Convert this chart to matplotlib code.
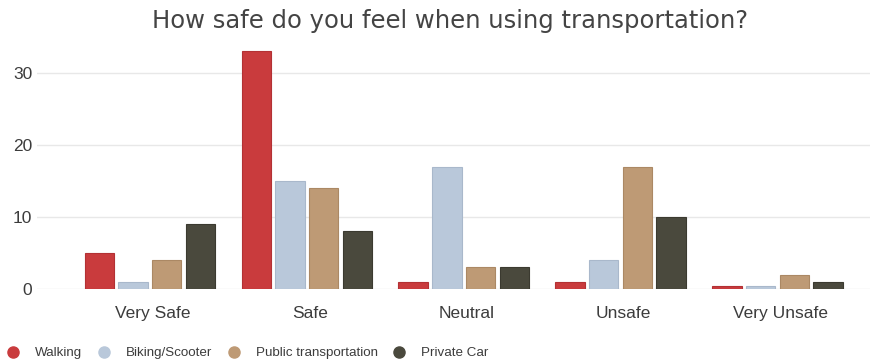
import numpy as np
import matplotlib.pyplot as plt
from matplotlib.lines import Line2D

# ========= DATA =========
categories = ["Very Safe", "Safe", "Neutral", "Unsafe", "Very Unsafe"]
series_names = ["Walking", "Biking/Scooter", "Public transportation", "Private Car"]
walking = [5, 33, 1, 1, 0.4]
biking = [1, 15, 17, 4, 0.4]
public = [4, 14, 3, 17, 2]
private = [9, 8, 3, 10, 1]
yticks = [0, 10, 20, 30]

colors = ["#c93b3d", "#b9c8da", "#be9a75", "#4a493d"]
edges = ["#b33134", "#a9b8cb", "#ab8864", "#3b3a30"]

# ========= PLOT =========
fig = plt.figure(figsize=(8.86, 3.62), dpi=100)
ax = fig.add_axes([37 / 886, 73 / 362, 833 / 886, 245 / 362])

x = np.arange(len(categories))
pitch = 0.215
width = 0.187
for i, (vals, c, ec) in enumerate(zip([walking, biking, public, private], colors, edges)):
    ax.bar(x + (i - 1.5) * pitch, vals, width=width, color=c, edgecolor=ec,
           linewidth=0.8, zorder=3)

ax.set_xlim(-0.72, 4.59)
ax.set_ylim(0, 34)
ax.set_yticks(yticks)
ax.set_xticks(x + 0.02)
ax.set_xticklabels(categories, fontfamily="Liberation Sans")
for lab in ax.get_yticklabels():
    lab.set_fontfamily("Liberation Sans")
ax.tick_params(axis="both", length=0, labelsize=12.5, labelcolor="#3c3c3c")
ax.tick_params(axis="x", pad=12.5)
ax.tick_params(axis="y", pad=3.5)
ax.grid(axis="y", color="#e8e8e8", linewidth=1, zorder=0)
for s in ax.spines.values():
    s.set_visible(False)

fig.suptitle("How safe do you feel when using transportation?", x=0.508, y=0.975,
             fontsize=17.5, color="#444444")

handles = [Line2D([], [], marker="o", linestyle="", markersize=8, color=c) for c in colors]
fig.legend(handles, series_names, loc="center left", bbox_to_anchor=(0.0016, 1 - 353 / 362),
           ncol=4, frameon=False, prop={"family": "Liberation Sans", "size": 9.6},
           handlelength=1, handletextpad=1.15, columnspacing=1.1, borderaxespad=0,
           labelcolor="#3c3c3c")

fig.savefig("out.png", dpi=100)
